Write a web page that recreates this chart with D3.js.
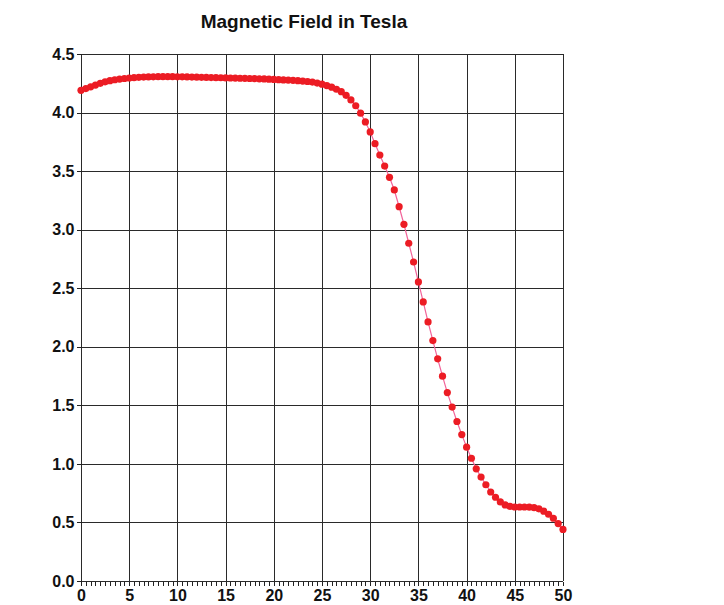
<!DOCTYPE html>
<html>
<head>
<meta charset="utf-8">
<script src="https://cdn.jsdelivr.net/npm/d3@7"></script>
<style>
  html, body { margin: 0; padding: 0; background: #fff; }
  svg { display: block; font-family: "Liberation Sans", Arial, Helvetica, sans-serif; }
</style>
</head>
<body>
<svg id="chart" width="724" height="605"></svg>
<script>
// Position along the axis (0 to 50, sampled every 0.5)
const positions = d3.range(0, 50.001, 0.5);

// Field strength in tesla at each position
const fieldTesla = [
  4.190, 4.205, 4.220, 4.235, 4.250, 4.262, 4.272, 4.280, 4.286, 4.291,
  4.295, 4.298, 4.301, 4.303, 4.304, 4.305, 4.306, 4.306, 4.306, 4.306,
  4.305, 4.305, 4.304, 4.303, 4.302, 4.301, 4.300, 4.299, 4.298, 4.297,
  4.296, 4.295, 4.294, 4.293, 4.292, 4.291, 4.290, 4.288, 4.287, 4.285,
  4.283, 4.281, 4.279, 4.277, 4.275, 4.272, 4.269, 4.265, 4.260, 4.252,
  4.242, 4.230, 4.217, 4.199, 4.178, 4.147, 4.108, 4.058, 3.995, 3.920,
  3.835, 3.734, 3.637, 3.543, 3.447, 3.339, 3.196, 3.046, 2.884, 2.724,
  2.554, 2.383, 2.212, 2.053, 1.897, 1.749, 1.609, 1.485, 1.362, 1.250,
  1.143, 1.048, 0.958, 0.887, 0.822, 0.760, 0.715, 0.675, 0.650, 0.638,
  0.632, 0.632, 0.632, 0.631, 0.627, 0.616, 0.596, 0.570, 0.536, 0.490,
  0.440
];

// Tick labels
const xTicks = [0, 5, 10, 15, 20, 25, 30, 35, 40, 45, 50];
const xMinorTicks = d3.range(0, 50.001, 0.5);
const yTicks = [0, 0.5, 1, 1.5, 2, 2.5, 3, 3.5, 4, 4.5];

const title = "Magnetic Field in Tesla";

const svg = d3.select("#chart");
const plotLeft = 81, plotRight = 563, plotTop = 54, plotBottom = 581;

const x = d3.scaleLinear().domain([0, 50]).range([plotLeft, plotRight]);
const y = d3.scaleLinear().domain([0, 4.5]).range([plotBottom, plotTop]);

// Title
svg.append("text")
  .attr("x", 304).attr("y", 28)
  .attr("text-anchor", "middle")
  .attr("font-size", 19).attr("font-weight", "bold")
  .attr("fill", "#111")
  .text(title);

// Grid
const grid = svg.append("g").attr("stroke", "#2a2a2a").attr("stroke-width", 1).attr("shape-rendering", "crispEdges");
grid.selectAll("line.v").data(xTicks).join("line")
  .attr("class", "v")
  .attr("x1", d => Math.round(x(d)) + 0.5).attr("x2", d => Math.round(x(d)) + 0.5)
  .attr("y1", plotTop).attr("y2", plotBottom);
grid.selectAll("line.h").data(yTicks).join("line")
  .attr("class", "h")
  .attr("x1", plotLeft).attr("x2", plotRight)
  .attr("y1", d => Math.round(y(d)) + 0.5).attr("y2", d => Math.round(y(d)) + 0.5);

// X axis: minor ticks every 0.5 below the baseline, labels at majors
const xAxis = d3.axisBottom(x).tickValues(xMinorTicks).tickSize(4).tickFormat("");
const gx = svg.append("g")
  .attr("transform", `translate(0,${Math.round(y(0)) + 0.5})`)
  .call(xAxis);
gx.select(".domain").remove();
gx.selectAll(".tick line").attr("stroke", "#222").attr("shape-rendering", "crispEdges");

const xLab = d3.axisBottom(x).tickValues(xTicks).tickSize(0).tickPadding(8).tickFormat(d3.format("d"));
const gxl = svg.append("g")
  .attr("transform", `translate(0,${Math.round(y(0)) + 0.5})`)
  .call(xLab);
gxl.select(".domain").remove();
gxl.selectAll("text")
  .attr("font-size", 16).attr("font-weight", "bold").attr("fill", "#111")
  .attr("font-family", "'Liberation Sans', Arial, sans-serif");

// Y axis
const yAxis = d3.axisLeft(y).tickValues(yTicks).tickSize(5).tickPadding(2).tickFormat(d3.format(".1f"));
const gy = svg.append("g")
  .attr("transform", `translate(${Math.round(x(0)) + 0.5},0)`)
  .call(yAxis);
gy.select(".domain").remove();
gy.selectAll(".tick line").attr("stroke", "#222").attr("shape-rendering", "crispEdges");
gy.selectAll("text")
  .attr("font-size", 16).attr("font-weight", "bold").attr("fill", "#111")
  .attr("font-family", "'Liberation Sans', Arial, sans-serif");

// Data line and markers
const pts = positions.map((p, i) => ({ p, v: fieldTesla[i] }));
const line = d3.line().x(d => x(d.p)).y(d => y(d.v));
svg.append("path")
  .datum(pts)
  .attr("fill", "none")
  .attr("stroke", "#f2649a")
  .attr("stroke-width", 1.2)
  .attr("d", line);

svg.append("g").selectAll("circle").data(pts).join("circle")
  .attr("cx", d => x(d.p))
  .attr("cy", d => y(d.v))
  .attr("r", 3.6)
  .attr("fill", "#ec1c24");
</script>
</body>
</html>
